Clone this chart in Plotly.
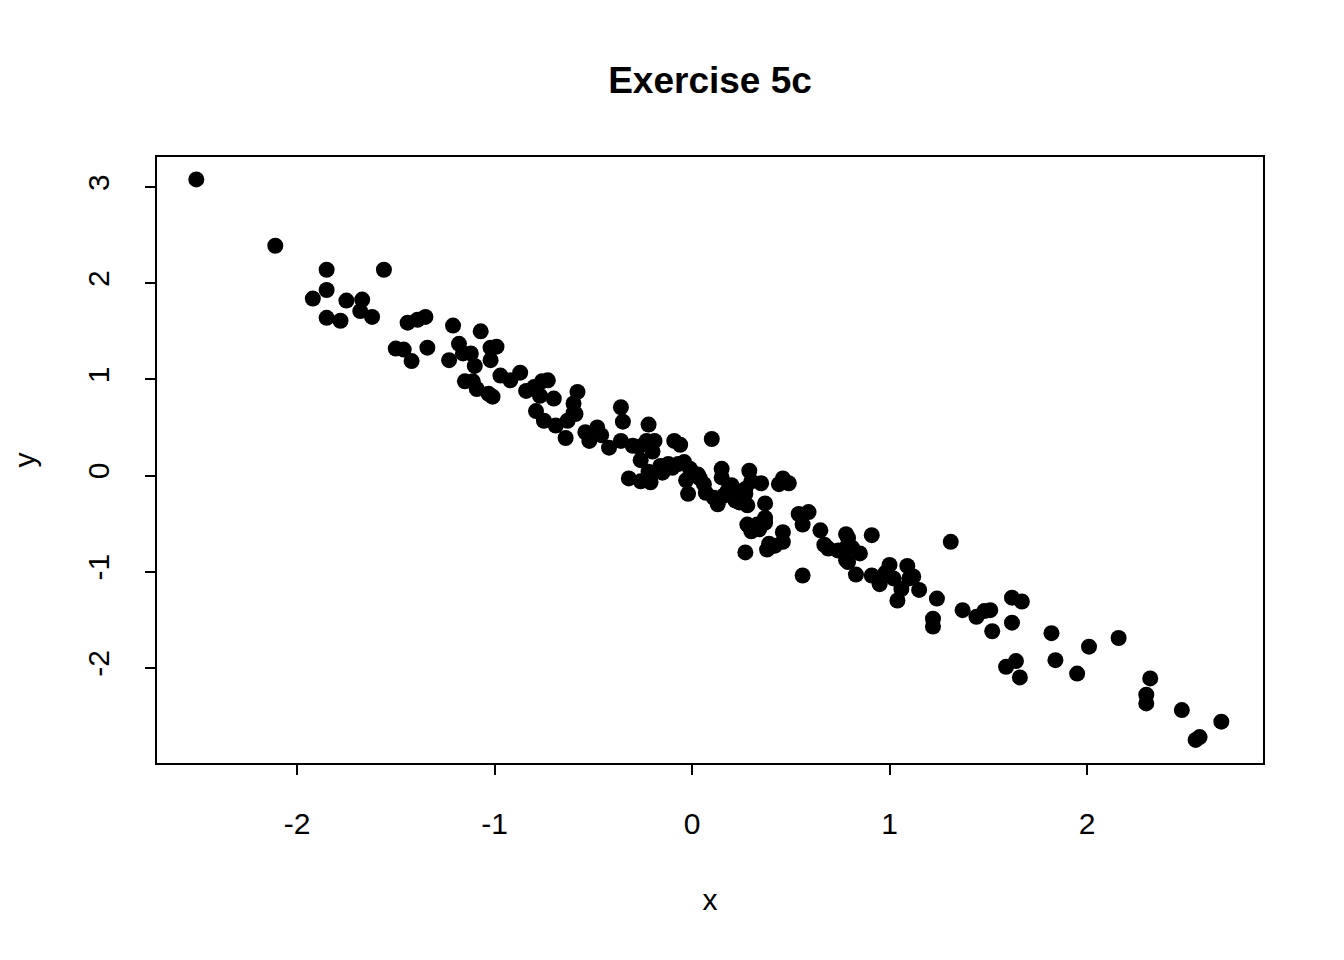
import plotly.graph_objects as go

x = [-2.51, -2.11, -1.85, -1.56, -1.92, -1.85, -1.75, -1.67, -1.68, -1.78, -1.85, -1.62,
     -1.50, -1.46, -1.42, -1.44, -1.39, -1.35, -1.34, -1.21, -1.18, -1.23, -1.16, -1.12,
     -1.07, -1.02, -0.99, -1.02, -1.10, -1.15, -1.11, -1.09, -1.03, -1.01, -0.97, -0.92,
     -0.87, -0.84, -0.80, -0.76, -0.73, -0.77, -0.79, -0.75, -0.70, -0.69, -0.64, -0.63,
     -0.60, -0.60, -0.58, -0.59, -0.54, -0.52, -0.48, -0.46, -0.42, -0.36, -0.35, -0.36,
     -0.32, -0.30, -0.26, -0.27, -0.23, -0.22, -0.19, -0.20, -0.22, -0.26, -0.21, -0.16,
     -0.15, -0.12, -0.09, -0.06, -0.07, -0.10, -0.04, -0.03, -0.01, -0.02, 0.03, 0.06,
     0.07, 0.04, 0.10, 0.11, 0.15, 0.16, 0.13, 0.15, 0.18, 0.21, 0.22, 0.24, 0.27, 0.27,
     0.28, 0.29, 0.30, 0.28, 0.30, 0.27, 0.33, 0.34, 0.37, 0.35, 0.37, 0.37, 0.44, 0.46,
     0.49, 0.25, 0.20, 0.46, 0.46, 0.42, 0.38, 0.39, 0.54, 0.56, 0.59, 0.56, 0.65, 0.67,
     0.69, 0.74, 0.78, 0.78, 0.79, 0.79, 0.83, 0.85, 0.78, 0.81, 0.91, 0.91, 0.95, 0.98,
     1.00, 1.02, 1.04, 1.06, 1.09, 1.10, 1.12, 1.15, 1.22, 1.22, 1.24, 1.31, 1.37, 1.44,
     1.48, 1.51, 1.52, 1.59, 1.62, 1.62, 1.64, 1.66, 1.67, 1.82, 1.84, 1.95, 2.01, 2.16,
     2.30, 2.30, 2.32, 2.48, 2.55, 2.57, 2.68]

y = [3.08, 2.39, 2.14, 2.14, 1.84, 1.93, 1.82, 1.83, 1.71, 1.61, 1.64, 1.65,
     1.32, 1.31, 1.19, 1.59, 1.62, 1.65, 1.33, 1.56, 1.37, 1.20, 1.27, 1.27,
     1.50, 1.33, 1.34, 1.20, 1.14, 0.98, 0.98, 0.90, 0.85, 0.82, 1.04, 0.99,
     1.07, 0.88, 0.92, 0.98, 0.99, 0.83, 0.67, 0.57, 0.80, 0.52, 0.39, 0.57,
     0.75, 0.65, 0.87, 0.64, 0.45, 0.36, 0.50, 0.42, 0.29, 0.71, 0.56, 0.36,
     -0.03, 0.31, 0.16, 0.30, 0.36, 0.53, 0.36, 0.25, 0.04, -0.06, -0.07, 0.10,
     0.03, 0.12, 0.36, 0.32, 0.12, 0.08, 0.14, -0.05, 0.07, -0.19, 0.01, -0.09,
     -0.18, -0.03, 0.38, -0.23, 0.07, -0.21, -0.30, -0.02, -0.16, -0.15, -0.26, -0.28, -0.14, -0.19,
     -0.31, 0.05, -0.06, -0.51, -0.58, -0.80, -0.51, -0.56, -0.44, -0.08, -0.29, -0.49, -0.09, -0.03,
     -0.08, -0.24, -0.10, -0.59, -0.69, -0.73, -0.77, -0.71, -0.40, -0.51, -0.38, -1.04, -0.57, -0.72,
     -0.76, -0.78, -0.61, -0.75, -0.90, -0.65, -1.03, -0.81, -0.88, -0.75, -0.62, -1.04, -1.13, -1.01,
     -0.93, -1.07, -1.30, -1.18, -0.94, -1.07, -1.05, -1.19, -1.49, -1.57, -1.28, -0.69, -1.40, -1.47,
     -1.41, -1.40, -1.62, -1.99, -1.27, -1.53, -1.93, -2.10, -1.31, -1.64, -1.92, -2.06, -1.78, -1.69,
     -2.37, -2.28, -2.11, -2.44, -2.75, -2.72, -2.56]

x_ticks = [-2, -1, 0, 1, 2]
y_ticks = [-2, -1, 0, 1, 2, 3]

FONT = "Liberation Sans, Arial, sans-serif"

fig = go.Figure(go.Scatter(
    x=x, y=y, mode="markers",
    marker=dict(color="black", size=16, line=dict(width=0)),
    hoverinfo="skip",
))

fig.update_layout(
    width=1344, height=960,
    paper_bgcolor="white", plot_bgcolor="white",
    margin=dict(l=149, r=89, t=149, b=205),
    showlegend=False,
    font=dict(family=FONT, size=30, color="black"),
    title=dict(text="<b>Exercise 5c</b>", x=702 / 1344, xanchor="center",
               y=1 - 72 / 960, yanchor="middle",
               font=dict(family=FONT, size=37, color="black")),
)

fig.update_xaxes(
    range=[-2.709, 2.891], tickvals=x_ticks, ticktext=[str(v) for v in x_ticks],
    showgrid=False, zeroline=False, showline=True, mirror=True, linecolor="black", linewidth=1.5,
    ticks="outside", ticklen=10, tickwidth=1.5, tickcolor="black", ticklabelstandoff=23,
    title=dict(text="x", standoff=50, font=dict(size=30)),
)
fig.update_yaxes(
    range=[-2.99, 3.313], tickvals=y_ticks, ticktext=[str(v) for v in y_ticks],
    showgrid=False, zeroline=False, showline=True, mirror=True, linecolor="black", linewidth=1.5,
    ticks="outside", ticklen=10, tickwidth=1.5, tickcolor="black", tickangle=-90, ticklabelstandoff=24,
    title=dict(text="y", standoff=38, font=dict(size=30)),
)

fig.write_html("out.html")
